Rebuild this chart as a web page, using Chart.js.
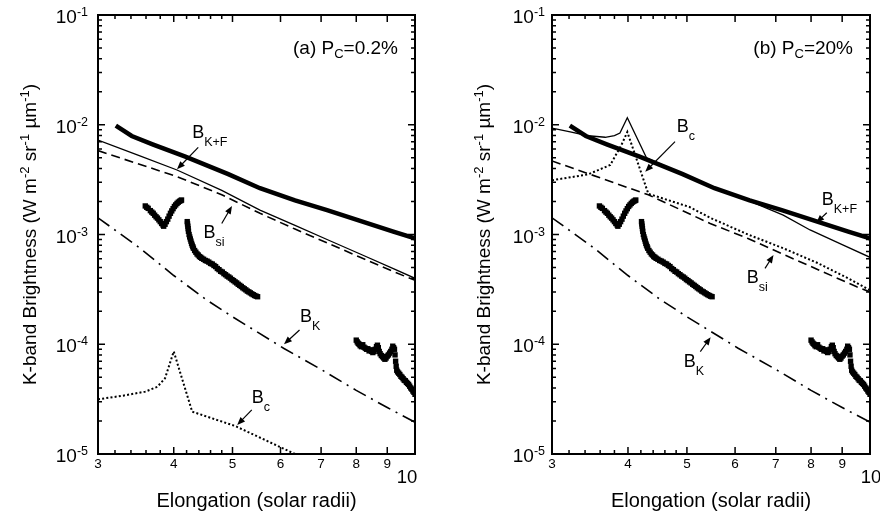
<!DOCTYPE html>
<html>
<head>
<meta charset="utf-8">
<script src="https://cdn.jsdelivr.net/npm/chart.js@4.4.0/dist/chart.umd.min.js"></script>
<style>
  html, body { margin: 0; padding: 0; background: #fff; }
  #wrap { position: relative; width: 880px; height: 518px; }
  .panel { position: absolute; top: 0; width: 440px; height: 518px; }
</style>
</head>
<body>
<div id="wrap">
  <div class="panel" style="left:0"><canvas id="chartA" width="440" height="518"></canvas></div>
  <div class="panel" style="left:440px"><canvas id="chartB" width="440" height="518"></canvas></div>
</div>
<script>
// ---- axis ticks ----
const xMajorTicks = [3, 4, 5, 6, 7, 8, 9, 10];
const xMinorTicks = [3.2, 3.4, 3.6, 3.8, 4.2, 4.4, 4.6, 4.8];
const yDecades = [-1, -2, -3, -4, -5];
const yMinorMantissa = [2, 3, 4, 5, 6, 7, 8, 9];

// ---- B_K+F (thick, both panels) ----
const kfX = [3.21, 3.41, 3.7, 4.18, 4.92, 5.55, 6.34, 7.16, 8.12, 9.21, 10];
const kfY = [9.8e-3, 7.9e-3, 6.6e-3, 5.12e-3, 3.55e-3, 2.64e-3, 2.05e-3, 1.67e-3, 1.33e-3, 1.06e-3, 9.2e-4];

// ---- B_K (dash-dot, both panels) ----
const bkX = [3, 3.52, 4, 4.51, 5, 6.07, 7, 8, 9, 10];
const bkY = [1.42e-3, 7.5e-4, 4.23e-4, 2.58e-4, 1.78e-4, 9.2e-5, 5.9e-5, 3.8e-5, 2.65e-5, 1.95e-5];

// ---- panel (a) P_C = 0.2% ----
const totAX = [3, 3.5, 4.05, 4.8, 5.55, 6.34, 7.16, 8.12, 9.21, 10];
const totAY = [7.26e-3, 5.26e-3, 3.87e-3, 2.52e-3, 1.67e-3, 1.21e-3, 9.0e-4, 6.64e-4, 4.88e-4, 3.99e-4];
const siAX = [3, 4.05, 4.8, 5.55, 6.34, 7.16, 8.12, 9.21, 10];
const siAY = [5.81e-3, 3.37e-3, 2.3e-3, 1.56e-3, 1.12e-3, 8.4e-4, 6.2e-4, 4.6e-4, 3.82e-4];
const cAX = [3, 3.3, 3.59, 3.76, 3.87, 4, 4.29, 5.05, 6.34];
const cAY = [3.15e-5, 3.4e-5, 3.7e-5, 4.1e-5, 4.9e-5, 8.6e-5, 2.43e-5, 1.8e-5, 1.0e-5];

// ---- panel (b) P_C = 20% ----
const totBX = [3, 3.2, 3.44, 3.67, 3.8, 3.88, 3.99, 4.29, 5.0, 5.46, 6.3, 7.2, 7.97, 9.0, 10];
const totBY = [9.3e-3, 8.65e-3, 7.94e-3, 7.69e-3, 7.95e-3, 8.4e-3, 1.16e-2, 5.0e-3, 3.45e-3, 2.75e-3, 2.05e-3, 1.5e-3, 1.1e-3, 8.1e-4, 6.2e-4];
const siBX = [3, 4.32, 5.46, 6.3, 7.2, 8.2, 9.51, 10];
const siBY = [4.68e-3, 2.3e-3, 1.26e-3, 9.2e-4, 6.6e-4, 4.8e-4, 3.34e-4, 3.0e-4];
const cBX = [3, 3.44, 3.74, 3.9, 3.99, 4.32, 5.05, 5.46, 6.3, 7.2, 8.2, 9.2, 10];
const cBY = [3.12e-3, 3.53e-3, 4.3e-3, 6.5e-3, 8.6e-3, 2.35e-3, 1.78e-3, 1.42e-3, 1.0e-3, 7.5e-4, 5.5e-4, 4.0e-4, 3.1e-4];

// ---- observed K-band brightness (squares, both panels) ----
const obs1X = [3.59, 3.61, 3.63, 3.66, 3.68, 3.70, 3.72, 3.74, 3.76, 3.78, 3.80, 3.82, 3.84, 3.85, 3.87, 3.89, 3.91, 3.93, 3.95, 3.97, 3.99, 4.01, 4.03, 4.05, 4.07, 4.09, 4.11, 4.12];
const obs1Y = [1.82e-3, 1.77e-3, 1.73e-3, 1.65e-3, 1.6e-3, 1.56e-3, 1.5e-3, 1.45e-3, 1.41e-3, 1.36e-3, 1.31e-3, 1.26e-3, 1.22e-3, 1.19e-3, 1.24e-3, 1.31e-3, 1.38e-3, 1.47e-3, 1.56e-3, 1.64e-3, 1.72e-3, 1.8e-3, 1.86e-3, 1.92e-3, 1.97e-3, 2.01e-3, 2.04e-3, 2.06e-3];
const obs2X = [4.21, 4.215, 4.22, 4.225, 4.23, 4.24, 4.25, 4.26, 4.27, 4.28, 4.29, 4.30, 4.31, 4.33, 4.35, 4.37, 4.39, 4.41, 4.43, 4.45, 4.48, 4.51, 4.54, 4.57, 4.60, 4.63, 4.66, 4.69, 4.72, 4.75, 4.78, 4.81, 4.84, 4.87, 4.90, 4.93, 4.96, 4.99, 5.02, 5.05, 5.08, 5.11, 5.14, 5.17, 5.20, 5.23, 5.26, 5.29, 5.32, 5.35, 5.38, 5.41, 5.44, 5.47, 5.50];
const obs2Y = [1.31e-3, 1.25e-3, 1.19e-3, 1.13e-3, 1.07e-3, 1.0e-3, 9.5e-4, 9.1e-4, 8.7e-4, 8.3e-4, 8.0e-4, 7.75e-4, 7.5e-4, 7.15e-4, 6.9e-4, 6.65e-4, 6.5e-4, 6.3e-4, 6.2e-4, 6.07e-4, 5.95e-4, 5.8e-4, 5.72e-4, 5.6e-4, 5.45e-4, 5.38e-4, 5.22e-4, 5.1e-4, 4.9e-4, 4.78e-4, 4.62e-4, 4.55e-4, 4.4e-4, 4.3e-4, 4.18e-4, 4.1e-4, 4.0e-4, 3.88e-4, 3.8e-4, 3.7e-4, 3.62e-4, 3.52e-4, 3.44e-4, 3.36e-4, 3.27e-4, 3.2e-4, 3.13e-4, 3.05e-4, 3.0e-4, 2.94e-4, 2.88e-4, 2.83e-4, 2.78e-4, 2.74e-4, 2.71e-4];
const obs3X = [8.00, 8.03, 8.06, 8.09, 8.12, 8.16, 8.20, 8.24, 8.28, 8.32, 8.36, 8.40, 8.44, 8.48, 8.52, 8.56, 8.60, 8.64, 8.67, 8.70, 8.73, 8.76, 8.80, 8.84, 8.88, 8.92, 8.96, 9.00, 9.04, 9.08, 9.12, 9.16, 9.19, 9.22, 9.25, 9.27, 9.29, 9.31, 9.33, 9.36, 9.40, 9.44, 9.48, 9.52, 9.56, 9.60, 9.64, 9.68, 9.72, 9.76, 9.80, 9.84, 9.88, 9.92, 9.96, 10.0];
const obs3Y = [1.09e-4, 1.05e-4, 1.02e-4, 1.0e-4, 9.7e-5, 9.5e-5, 9.9e-5, 9.4e-5, 9.2e-5, 9.0e-5, 9.1e-5, 8.7e-5, 8.9e-5, 8.6e-5, 8.4e-5, 8.6e-5, 9.0e-5, 9.5e-5, 9.8e-5, 9.3e-5, 8.6e-5, 8.2e-5, 7.9e-5, 7.7e-5, 7.5e-5, 7.3e-5, 7.5e-5, 7.8e-5, 8.0e-5, 8.3e-5, 8.6e-5, 9.0e-5, 9.6e-5, 9.3e-5, 9.0e-5, 8.0e-5, 7.0e-5, 6.3e-5, 5.8e-5, 5.6e-5, 5.45e-5, 5.3e-5, 5.1e-5, 5.0e-5, 4.85e-5, 4.7e-5, 4.65e-5, 4.5e-5, 4.4e-5, 4.3e-5, 4.15e-5, 4.0e-5, 3.9e-5, 3.75e-5, 3.65e-5, 3.5e-5];

const FONT = '"Liberation Sans", Arial, Helvetica, sans-serif';

function pts(xs, ys) {
  return xs.map((x, i) => ({ x: x, y: ys[i] }));
}

function runsWidth(ctx, runs) {
  let w = 0;
  runs.forEach(r => { ctx.font = r.size + 'px ' + FONT; w += ctx.measureText(r.text).width; });
  return w;
}

function drawRuns(ctx, runs, x, y, align) {
  const w = runsWidth(ctx, runs);
  let cx = align === 'right' ? x - w : (align === 'center' ? x - w / 2 : x);
  ctx.textAlign = 'left';
  ctx.textBaseline = 'alphabetic';
  runs.forEach(r => {
    ctx.font = r.size + 'px ' + FONT;
    ctx.fillText(r.text, cx, y + (r.dy || 0));
    cx += ctx.measureText(r.text).width;
  });
}

function arrow(ctx, x1, y1, x2, y2) {
  const a = Math.atan2(y2 - y1, x2 - x1), L = 8, W = 3.2;
  ctx.lineWidth = 1.2;
  ctx.beginPath();
  ctx.moveTo(x1, y1);
  ctx.lineTo(x2 - L * 0.7 * Math.cos(a), y2 - L * 0.7 * Math.sin(a));
  ctx.stroke();
  ctx.beginPath();
  ctx.moveTo(x2, y2);
  ctx.lineTo(x2 - L * Math.cos(a) + W * Math.sin(a), y2 - L * Math.sin(a) - W * Math.cos(a));
  ctx.lineTo(x2 - L * Math.cos(a) - W * Math.sin(a), y2 - L * Math.sin(a) + W * Math.cos(a));
  ctx.closePath();
  ctx.fill();
}

const B = (sub) => [{ text: 'B', size: 18 }, { text: sub, size: 12.5, dy: 8 }];

// draws frame, inward ticks, tick labels, titles and annotations
const decorPlugin = {
  id: 'decor',
  afterDraw(chart, args, opts) {
    const ctx = chart.ctx, a = chart.chartArea;
    const xs = chart.scales.x, ys = chart.scales.y;
    ctx.save();
    ctx.fillStyle = '#000';
    ctx.strokeStyle = '#000';

    // ticks
    ctx.lineWidth = 1.5;
    const tick = (px, len, horiz) => {
      ctx.beginPath();
      if (horiz) {
        ctx.moveTo(px, a.bottom); ctx.lineTo(px, a.bottom - len);
        ctx.moveTo(px, a.top); ctx.lineTo(px, a.top + len);
      } else {
        ctx.moveTo(a.left, px); ctx.lineTo(a.left + len, px);
        ctx.moveTo(a.right, px); ctx.lineTo(a.right - len, px);
      }
      ctx.stroke();
    };
    xMajorTicks.forEach(v => tick(xs.getPixelForValue(v), 7, true));
    xMinorTicks.forEach(v => tick(xs.getPixelForValue(v), 4, true));
    yDecades.forEach(e => {
      tick(ys.getPixelForValue(Math.pow(10, e)), 7, false);
      if (e > -5) yMinorMantissa.forEach(m => tick(ys.getPixelForValue(m * Math.pow(10, e - 1)), 4, false));
    });

    // frame
    ctx.lineWidth = 2;
    ctx.strokeRect(a.left, a.top, a.right - a.left, a.bottom - a.top);

    // x tick labels
    xMajorTicks.forEach(v => {
      const px = xs.getPixelForValue(v);
      if (v === 10) {
        drawRuns(ctx, [{ text: '10', size: 18.5 }], px + opts.tenDx, a.bottom + 29, 'center');
      } else {
        drawRuns(ctx, [{ text: String(v), size: 13.5 }], px, a.bottom + 14, 'center');
      }
    });

    // y tick labels
    yDecades.forEach(e => {
      const py = ys.getPixelForValue(Math.pow(10, e));
      drawRuns(ctx, [{ text: '10', size: 19 }, { text: String(e), size: 12.5, dy: -7 }], a.left - opts.yLabelGap, py + 8, 'right');
    });

    // axis titles
    drawRuns(ctx, [{ text: 'Elongation (solar radii)', size: 20 }], (a.left + a.right) / 2, a.bottom + 53, 'center');
    ctx.save();
    ctx.translate(opts.yTitleX, (a.top + a.bottom) / 2);
    ctx.rotate(-Math.PI / 2);
    drawRuns(ctx, [
      { text: 'K-band Brightness (W m', size: 19 },
      { text: '-2', size: 13, dy: -7 },
      { text: ' sr', size: 19 },
      { text: '-1', size: 13, dy: -7 },
      { text: ' \u00b5m', size: 19 },
      { text: '-1', size: 13, dy: -7 },
      { text: ')', size: 19 }
    ], 0, 7, 'center');
    ctx.restore();

    // panel tag
    drawRuns(ctx, opts.tag, a.right - 17, a.top + 39, 'right');

    // curve labels and arrows
    opts.labels.forEach(l => {
      drawRuns(ctx, B(l.sub), xs.getPixelForValue(l.x), ys.getPixelForValue(l.y), 'left');
    });
    opts.arrows.forEach(r => {
      arrow(ctx, xs.getPixelForValue(r.from[0]), ys.getPixelForValue(r.from[1]),
        xs.getPixelForValue(r.to[0]), ys.getPixelForValue(r.to[1]));
    });
    ctx.restore();
  }
};

function makeChart(id, pad, tot, si, c, decor) {
  const line = (data, width, dash) => ({
    data: data, showLine: true, pointRadius: 0, borderColor: '#000',
    borderWidth: width, borderDash: dash, borderCapStyle: 'butt', tension: 0, fill: false
  });
  return new Chart(document.getElementById(id), {
    type: 'scatter',
    data: {
      datasets: [
        line(pts(kfX, kfY), 4.5, []),
        line(tot, 1.3, []),
        line(si, 1.6, [9, 5]),
        line(pts(bkX, bkY), 1.6, [14, 6, 2, 6]),
        line(c, 2, [2, 2.2]),
        {
          data: pts(obs1X, obs1Y).concat(pts(obs2X, obs2Y), pts(obs3X, obs3Y)),
          showLine: false, pointStyle: 'rect', pointRadius: 3.8,
          backgroundColor: '#000', borderWidth: 0
        }
      ]
    },
    options: {
      responsive: false,
      animation: false,
      events: [],
      layout: { padding: pad },
      plugins: { legend: { display: false }, tooltip: { enabled: false }, decor: decor },
      scales: {
        x: {
          type: 'logarithmic', min: 3, max: 10,
          ticks: { display: false }, grid: { display: false }, border: { display: false },
          afterFit(s) { s.height = 0; }
        },
        y: {
          type: 'logarithmic', min: 1e-5, max: 1e-1,
          ticks: { display: false }, grid: { display: false }, border: { display: false },
          afterFit(s) { s.width = 0; }
        }
      }
    },
    plugins: [decorPlugin]
  });
}

makeChart('chartA', { left: 98, right: 25, top: 15, bottom: 64 },
  pts(totAX, totAY), pts(siAX, siAY), pts(cAX, cAY), {
    tenDx: -8, yLabelGap: 10, yTitleX: 29,
    tag: [{ text: '(a) P', size: 19 }, { text: 'C', size: 13, dy: 4 }, { text: '=0.2%', size: 19 }],
    labels: [
      { x: 4.29, y: 7.5e-3, sub: 'K+F' },
      { x: 4.48, y: 9.2e-4, sub: 'si' },
      { x: 6.46, y: 1.6e-4, sub: 'K' },
      { x: 5.38, y: 2.9e-5, sub: 'c' }
    ],
    arrows: [
      { from: [4.39, 6.22e-3], to: [4.05, 3.93e-3] },
      { from: [4.8, 1.26e-3], to: [4.99, 1.82e-3] },
      { from: [6.45, 1.35e-4], to: [6.08, 1.0e-4] },
      { from: [5.38, 2.52e-5], to: [5.09, 1.84e-5] }
    ]
  });

makeChart('chartB', { left: 112, right: 10, top: 15, bottom: 64 },
  pts(totBX, totBY), pts(siBX, siBY), pts(cBX, cBY), {
    tenDx: 1, yLabelGap: 7, yTitleX: 43,
    tag: [{ text: '(b) P', size: 19 }, { text: 'C', size: 13, dy: 4 }, { text: '=20%', size: 19 }],
    labels: [
      { x: 4.81, y: 8.59e-3, sub: 'c' },
      { x: 8.33, y: 1.86e-3, sub: 'K+F' },
      { x: 6.27, y: 3.59e-4, sub: 'si' },
      { x: 4.94, y: 6.2e-5, sub: 'K' }
    ],
    arrows: [
      { from: [4.78, 7.02e-3], to: [4.27, 3.73e-3] },
      { from: [8.49, 1.58e-3], to: [8.16, 1.28e-3] },
      { from: [6.72, 4.92e-4], to: [6.94, 6.5e-4] },
      { from: [5.26, 8.55e-5], to: [5.47, 1.16e-4] }
    ]
  });
</script>
</body>
</html>
